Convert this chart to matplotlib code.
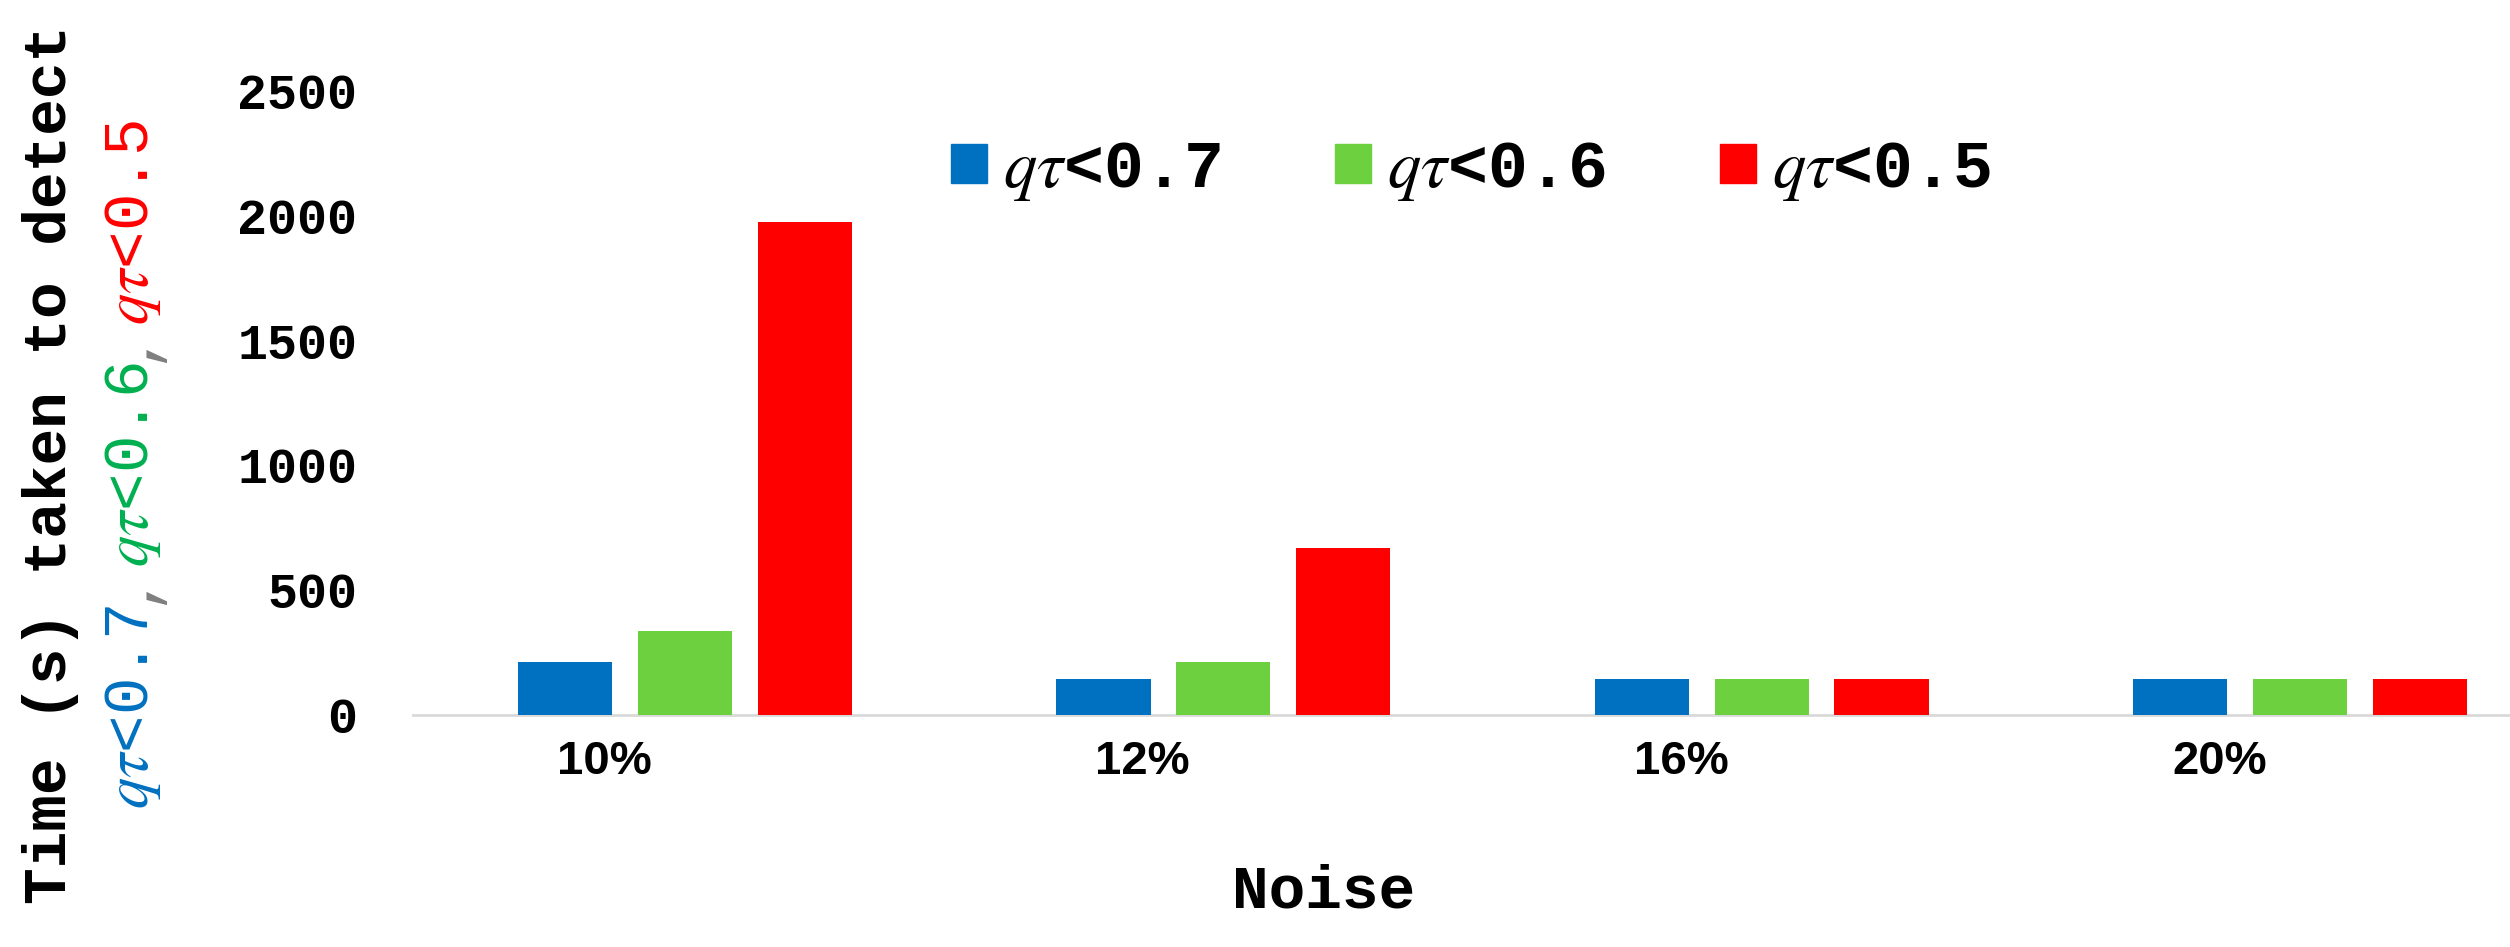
import numpy as np
import matplotlib
matplotlib.use('Agg')
import matplotlib.pyplot as plt
from matplotlib.patches import Patch

# data
noise = ['10%', '12%', '16%', '20%']
series = [r'$q\tau$<0.7', r'$q\tau$<0.6', r'$q\tau$<0.5']
t_07 = [212, 145, 145, 145]
t_06 = [337, 212, 145, 145]
t_05 = [1975, 668, 145, 145]

bar_cols = ['#0070C0', '#6DD13F', '#FF0000']
lab_cols = ['#0070C0', '#00B050', '#FF0000']

plt.rcParams['mathtext.fontset'] = 'stix'
W, H = 2510, 947
fig = plt.figure(figsize=(W/100, H/100), dpi=100)
# axes box in pixels: left 413, right 2510, bottom 715, top 91
ax = fig.add_axes([413/W, 1-715/H, (2510-413)/W, (715-91)/H])

x = np.arange(len(noise))
wid = 0.175
step = 0.2225
for i, vals in enumerate([t_07, t_06, t_05]):
    ax.bar(x + (i-1)*step, vals, wid, color=bar_cols[i], zorder=3)

ax.set_xlim(-0.505, 3.39)
ax.set_ylim(0, 2500)
ax.set_yticks([0, 500, 1000, 1500, 2000, 2500])
ax.set_xticks(x - 0.15)
ax.set_xticklabels(noise, family=['Liberation Sans Narrow', 'Liberation Sans'],
                   fontweight='bold', fontsize=34)
for lab in ax.get_yticklabels():
    lab.set_family('Liberation Mono')
    lab.set_fontweight('bold')
    lab.set_fontsize(36)
ax.tick_params(axis='y', length=0, pad=40)
ax.tick_params(axis='x', length=0, pad=18)
for s in ['left', 'right', 'top']:
    ax.spines[s].set_visible(False)
ax.spines['bottom'].set_color('#D9D9D9')
ax.spines['bottom'].set_linewidth(2)

ax.set_xlabel('Noise', family='Liberation Mono', fontweight='bold',
              fontsize=44)
ax.xaxis.set_label_coords(0.434, -0.236)

handles = [Patch(color=c) for c in bar_cols]
fig.legend(handles, series, loc='center', bbox_to_anchor=(1471/W, 1-171/H),
           ncol=3, frameon=False, handlelength=0.54, handleheight=0.54,
           handletextpad=0.25, columnspacing=1.7,
           prop={'family': 'Liberation Mono', 'weight': 'bold', 'size': 48})

# y label, first line
fig.text(50/W, 1-904/H, 'Time (s) taken to detect', rotation=90,
         ha='center', va='bottom', family='Liberation Mono',
         fontweight='bold', fontsize=44)

# y label, second line in colours
pieces = [(series[0], lab_cols[0]), (',', '#7F7F7F'),
          (series[1], lab_cols[1]), (',', '#7F7F7F'),
          (series[2], lab_cols[2])]
fig.canvas.draw()
rend = fig.canvas.get_renderer()
ypos = 809
for txt, c in pieces:
    t = fig.text(133/W, 1-ypos/H, txt, rotation=90, ha='center', va='bottom',
                 family='Liberation Mono', fontsize=45, color=c)
    bb = t.get_window_extent(rend)
    ypos = H - bb.y1

fig.savefig('out.png', dpi=100)
